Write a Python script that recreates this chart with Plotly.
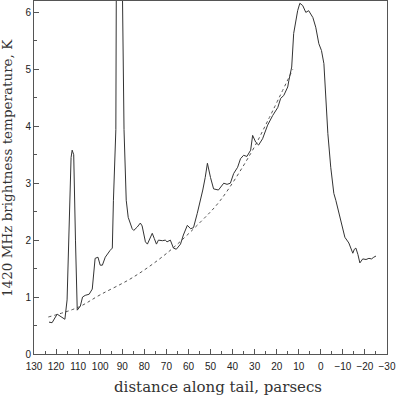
import plotly.graph_objects as go

# observed brightness along the tail (distance in pc, temperature in K)
distance = [123.2, 121.8, 119.5, 117.3, 116.0, 115.0, 114.0, 113.2, 112.7, 112.0, 111.2, 110.4,
            109.0, 108.0, 106.8, 105.0, 103.6, 102.3, 101.0, 100.0, 99.0, 97.7, 95.5, 94.5,
            94.0, 92.9, 92.7, 91.3, 89.9, 89.2, 88.2, 87.3, 85.5, 84.8, 83.2, 81.8, 81.0,
            79.5, 78.6, 77.3, 76.4, 75.5, 74.5, 73.6, 71.8, 70.5, 69.7, 68.2, 66.8, 65.5,
            63.6, 62.3, 60.5, 59.0, 57.7, 56.0, 54.5, 53.5, 52.4, 51.4, 50.0, 48.6, 46.4,
            44.0, 42.5, 41.0, 39.5, 37.7, 36.4, 35.0, 33.5, 31.8, 30.9, 29.5, 28.2, 26.4,
            24.1, 21.8, 19.5, 18.2, 16.8, 15.0, 14.5, 13.2, 12.3, 10.5, 9.5, 8.2, 6.8,
            5.5, 3.6, 2.3, 0.9, -0.3, -1.4, -2.3, -3.2, -4.5, -5.9, -6.8, -9.0, -10.9,
            -12.7, -14.5, -15.2, -15.9, -16.8, -17.7, -19.0, -20.5, -21.8, -23.0, -24.0, -25.0]
temperature = [0.56, 0.55, 0.70, 0.65, 0.61, 0.95, 2.2, 3.45, 3.58, 3.5, 2.0, 0.77,
               0.84, 1.0, 1.03, 1.05, 1.14, 1.68, 1.70, 1.56, 1.56, 1.70, 1.82, 1.86,
               2.7, 3.94, 6.3, 8.0, 6.3, 3.94, 2.7, 2.4, 2.2, 2.17, 2.23, 2.3, 2.25,
               1.97, 1.93, 2.03, 2.12, 2.03, 1.93, 2.0, 1.99, 2.0, 1.97, 2.0, 1.86, 1.84,
               1.93, 2.09, 2.26, 2.2, 2.22, 2.47, 2.7, 2.88, 3.1, 3.35, 3.1, 2.9, 2.88,
               3.0, 2.98, 3.0, 3.17, 3.28, 3.43, 3.49, 3.47, 3.58, 3.84, 3.72, 3.67, 3.78,
               4.02, 4.19, 4.33, 4.49, 4.54, 4.69, 4.8, 5.04, 5.63, 6.03, 6.16, 6.12, 6.0,
               6.03, 5.91, 5.74, 5.45, 5.33, 5.1, 4.46, 3.87, 3.28, 2.82, 2.7, 2.35, 2.05,
               1.95, 1.77, 1.84, 1.86, 1.75, 1.6, 1.67, 1.66, 1.68, 1.67, 1.70, 1.72]

# dotted model curve
model_distance = [123.5, 110.0, 100.0, 85.0, 69.5, 54.5, 45.5, 31.8, 24.0, 12.7]
model_temperature = [0.65, 0.82, 1.04, 1.35, 1.78, 2.32, 2.7, 3.52, 4.1, 5.0]

x_ticks = [130, 120, 110, 100, 90, 80, 70, 60, 50, 40, 30, 20, 10, 0, -10, -20, -30]
x_tick_labels = [str(v).replace("-", "\u2212") for v in x_ticks]
y_ticks = [0, 1, 2, 3, 4, 5, 6]

fig = go.Figure()

fig.add_trace(go.Scatter(
    x=model_distance, y=model_temperature, mode="lines",
    line=dict(color="#555555", width=1, dash="dot", shape="spline"),
    showlegend=False
))

fig.add_trace(go.Scatter(
    x=distance, y=temperature, mode="lines",
    line=dict(color="#333333", width=1),
    showlegend=False
))

title_font = dict(family="DejaVu Serif, serif", color="#333333")

fig.update_layout(
    width=397, height=398,
    margin=dict(l=34, r=10, t=1, b=44),
    plot_bgcolor="white", paper_bgcolor="white",
    font=dict(family="Liberation Sans, Arial, sans-serif", size=10, color="#222222"),
    annotations=[
        dict(text="distance along tail, parsecs", xref="paper", yref="paper",
             x=0.5, y=0, xshift=7, yshift=-33, xanchor="center", yanchor="middle",
             showarrow=False, font=dict(size=15, **title_font)),
        dict(text="1420 MHz brightness temperature, K", xref="paper", yref="paper",
             x=0, y=0.527, xshift=-27, xanchor="center", yanchor="middle", textangle=-90,
             showarrow=False, font=dict(size=13.5, **title_font)),
    ]
)

fig.update_xaxes(
    range=[130, -30], tickvals=x_ticks, ticktext=x_tick_labels,
    automargin=False, ticklabeloverflow="allow", ticklabelstandoff=3,
    showgrid=False, zeroline=False,
    showline=True, linecolor="#555555", linewidth=1, mirror=True,
    ticks="inside", ticklen=5, tickcolor="#555555",
    minor=dict(dtick=5, ticks="inside", ticklen=3, tickcolor="#555555")
)

fig.update_yaxes(
    range=[0, 6.2], tickvals=y_ticks,
    automargin=False, ticklabeloverflow="allow",
    showgrid=False, zeroline=False,
    showline=True, linecolor="#555555", linewidth=1, mirror=True,
    ticks="inside", ticklen=5, tickcolor="#555555",
    minor=dict(dtick=0.5, ticks="inside", ticklen=3, tickcolor="#555555")
)

# drop the page's default body margin so the figure sits at the window corner
fig.write_html("out.html", config={"displayModeBar": False},
               post_script="document.body.style.margin='0';")
